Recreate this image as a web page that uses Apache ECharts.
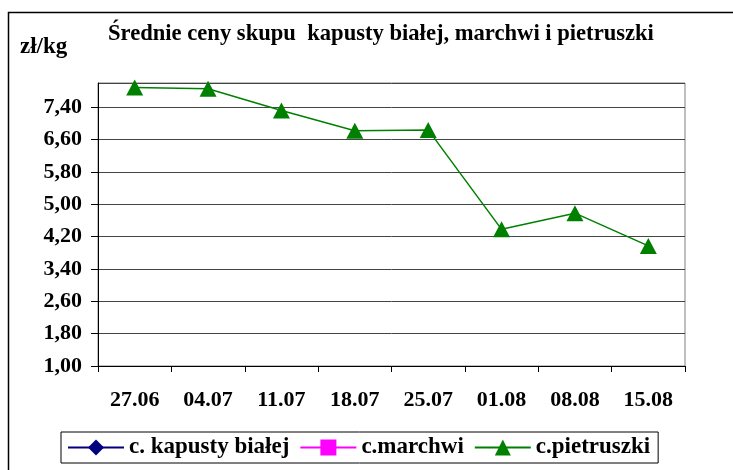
<!DOCTYPE html>
<html>
<head>
<meta charset="utf-8">
<script src="https://cdn.jsdelivr.net/npm/echarts@6/dist/echarts.min.js"></script>
<style>
html,body{margin:0;padding:0;background:#fff;}
#c{width:733px;height:470px;}
</style>
</head>
<body>
<div id="c"></div>
<script>
var categories = ['27.06','04.07','11.07','18.07','25.07','01.08','08.08','15.08'];
var kapusty = [null,null,null,null,null,null,null,null];
var marchwi = [null,null,null,null,null,null,null,null];
var pietruszki = [7.89,7.86,7.32,6.82,6.84,4.38,4.78,3.97];
var seriesNames = ['c. kapusty białej','c.marchwi','c.pietruszki'];
var titleText = 'Średnie ceny skupu  kapusty białej, marchwi i pietruszki';
var unitText = 'zł/kg';
var yMin = 1, yMax = 8, yStep = 0.8;

var FONT = "'Liberation Serif','Times New Roman',serif";
var chart = echarts.init(document.getElementById('c'), null, {renderer:'canvas'});
chart.setOption({
  animation:false,
  backgroundColor:'#fff',
  title:{
    text:titleText, left:103, top:18,
    textStyle:{fontFamily:FONT,fontWeight:'bold',fontSize:22.6,color:'#000'}
  },
  graphic:[
    {type:'rect', left:6, top:10, shape:{width:800,height:500}, style:{fill:null,stroke:'#000',lineWidth:1.5}, silent:true},
    {type:'text', left:20, top:36, style:{text:unitText, font:'bold 23px '+FONT, fill:'#000'}}
  ],
  grid:{left:98, right:48, top:83, bottom:104, show:true, borderColor:'#808080', borderWidth:1, backgroundColor:'#fff'},
  legend:{
    left:61, top:432, width:620,
    padding:[4,8,4,6],
    borderColor:'#000', borderWidth:1,
    itemWidth:56, itemHeight:20, itemGap:10,
    textStyle:{fontFamily:FONT,fontWeight:'bold',fontSize:23,color:'#000'},
    data:seriesNames
  },
  xAxis:{
    type:'category', data:categories, boundaryGap:true,
    axisLine:{lineStyle:{color:'#000',width:1}},
    axisTick:{show:true,length:6,inside:false,lineStyle:{color:'#000'}},
    axisLabel:{margin:23,fontFamily:FONT,fontWeight:'bold',fontSize:22,color:'#000'},
    splitLine:{show:false}
  },
  yAxis:{
    type:'value', min:yMin, max:yMax, interval:yStep,
    axisLine:{show:true,lineStyle:{color:'#000',width:1}},
    axisTick:{show:true,length:7,lineStyle:{color:'#000'}},
    axisLabel:{margin:16,showMaxLabel:false,fontFamily:FONT,fontWeight:'bold',fontSize:22,color:'#000',
      formatter:function(v){return v.toFixed(2).replace('.',',');}},
    splitLine:{show:true,lineStyle:{color:'#444',width:1}}
  },
  series:[
    {name:seriesNames[0],type:'line',data:kapusty,symbol:'diamond',symbolSize:14,
      itemStyle:{color:'#000080'},lineStyle:{color:'#000080',width:2}},
    {name:seriesNames[1],type:'line',data:marchwi,symbol:'rect',symbolSize:13,
      itemStyle:{color:'#FF00FF'},lineStyle:{color:'#FF00FF',width:2}},
    {name:seriesNames[2],type:'line',data:pietruszki,symbol:'triangle',symbolSize:[17,16],
      itemStyle:{color:'#008000'},lineStyle:{color:'#008000',width:1.5}}
  ]
});
</script>
</body>
</html>
